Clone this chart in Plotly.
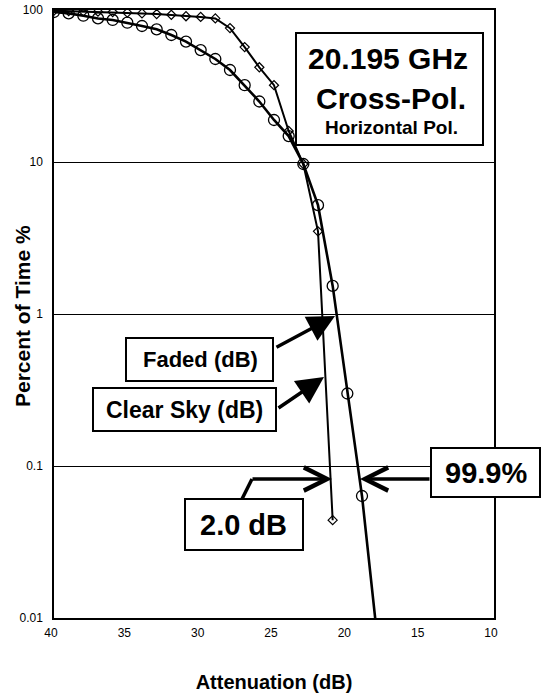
import plotly.graph_objects as go

# Cumulative attenuation statistics, 20.195 GHz cross-pol, horizontal polarisation
atten_faded = [40, 39, 38, 37, 36, 35, 34, 33, 32, 31, 30, 29, 28, 27, 26, 25, 24, 23, 22, 21]
pct_faded = [99, 98.5, 98, 97.5, 97, 96, 95, 94, 93, 91, 90, 88, 76, 57, 42, 32, 16, 9.7, 3.5, 0.044]

atten_clear = [40, 39, 38, 37, 36, 35, 34, 33, 32, 31, 30, 29, 28, 27, 26, 25, 24, 23, 22, 21, 20, 19, 18]
pct_clear = [97, 95, 91.7, 88, 86, 82.5, 78.5, 74.6, 68.5, 62, 54.5, 47.6, 40.3, 32, 25, 18.9, 14.8,
             9.7, 5.2, 1.53, 0.30, 0.0635, 0.0081]

x_ticks = [40, 35, 30, 25, 20, 15, 10]
y_ticks = [0.01, 0.1, 1, 10, 100]
y_tick_text = ["0.01", "0.1", "1", "10", "100"]

FONT = 'Arial, "Liberation Sans", Helvetica, sans-serif'

# page / plot-area geometry in pixels
W, H = 541, 698
L, R, T, B = 54, 494, 10, 618


def fx(px):
    return (px - L) / (R - L)


def fy(py):
    return (B - py) / (B - T)


fig = go.Figure()

fig.add_trace(go.Scatter(
    x=atten_faded, y=pct_faded, mode="lines+markers", name="Faded (dB)",
    line=dict(color="black", width=2),
    marker=dict(symbol="diamond-open", size=7, color="black", line=dict(width=1.2)),
))
fig.add_trace(go.Scatter(
    x=atten_clear, y=pct_clear, mode="lines+markers", name="Clear Sky (dB)",
    line=dict(color="black", width=2.6),
    marker=dict(symbol="circle-open", size=11, color="black", line=dict(width=1.3)),
))

shapes = []
annotations = []


def box(x0, y0, x1, y1):
    shapes.append(dict(type="rect", xref="paper", yref="paper",
                       x0=fx(x0), x1=fx(x1), y0=fy(y1), y1=fy(y0),
                       line=dict(color="black", width=2), fillcolor="white", layer="above"))


def label(cx, cy, text, size, angle=0):
    annotations.append(dict(x=fx(cx), y=fy(cy), xref="paper", yref="paper", text=text,
                            showarrow=False, xanchor="center", yanchor="middle", textangle=angle,
                            font=dict(family=FONT, size=size, color="black", weight="bold")))


def arrow(tip, tail, head, size, width=3.5):
    annotations.append(dict(x=fx(tip[0]), y=fy(tip[1]), xref="paper", yref="paper", text="",
                            showarrow=True, ax=tail[0] - tip[0], ay=tail[1] - tip[1],
                            arrowhead=head, arrowsize=size, arrowwidth=width,
                            arrowcolor="black", standoff=0))


# frequency / polarisation box
box(296, 33, 483, 145)
label(388, 59, "20.195 GHz", 30)
label(391, 98, "Cross-Pol.", 30)
label(391, 127, "Horizontal Pol.", 19)

# curve labels
box(126, 338, 273, 381)
label(200, 360, "Faded (dB)", 22)
arrow((335, 316), (275, 348), 2, 1.55)

box(93, 388, 276, 431)
label(184, 410, "Clear Sky (dB)", 23)
arrow((324, 377), (277, 409), 2, 1.55)

# margin at the 0.1 % level
box(185, 499, 303, 550)
label(243, 525, "2.0 dB", 29)
shapes.append(dict(type="path", xref="paper", yref="paper",
                   path=f"M {fx(242)},{fy(499)} L {fx(252)},{fy(479)}",
                   line=dict(color="black", width=3.5), layer="above"))
arrow((332, 479), (251, 479), 5, 1.3)

box(431, 448, 540, 497)
label(486, 473, "99.9%", 29)
arrow((360, 479), (431, 479), 5, 1.3)

# y axis title
label(22, 316, "Percent of Time %", 21, angle=-90)

fig.update_layout(
    width=W, height=H,
    margin=dict(l=L, r=W - R, t=T, b=H - B, autoexpand=False),
    paper_bgcolor="white", plot_bgcolor="white",
    showlegend=False,
    font=dict(family=FONT, color="black"),
    shapes=shapes, annotations=annotations,
)

fig.update_xaxes(
    range=[40, 10], tickvals=x_ticks, ticks="", showgrid=False, zeroline=False,
    showline=True, linecolor="black", linewidth=1.5, mirror=True,
    tickfont=dict(size=12, family=FONT), ticklabelstandoff=3, ticklabelshift=3,
    title=dict(text="Attenuation (dB)", font=dict(size=20, family=FONT, weight="bold"), standoff=36),
)
fig.update_yaxes(
    type="log", range=[-2, 2], tickvals=y_ticks, ticktext=y_tick_text, ticks="",
    showgrid=True, gridcolor="black", gridwidth=1.2, zeroline=False,
    showline=True, linecolor="black", linewidth=1.5, mirror=True,
    tickfont=dict(size=12, family=FONT), ticklabelstandoff=7,
)

fig.write_html("out.html")
